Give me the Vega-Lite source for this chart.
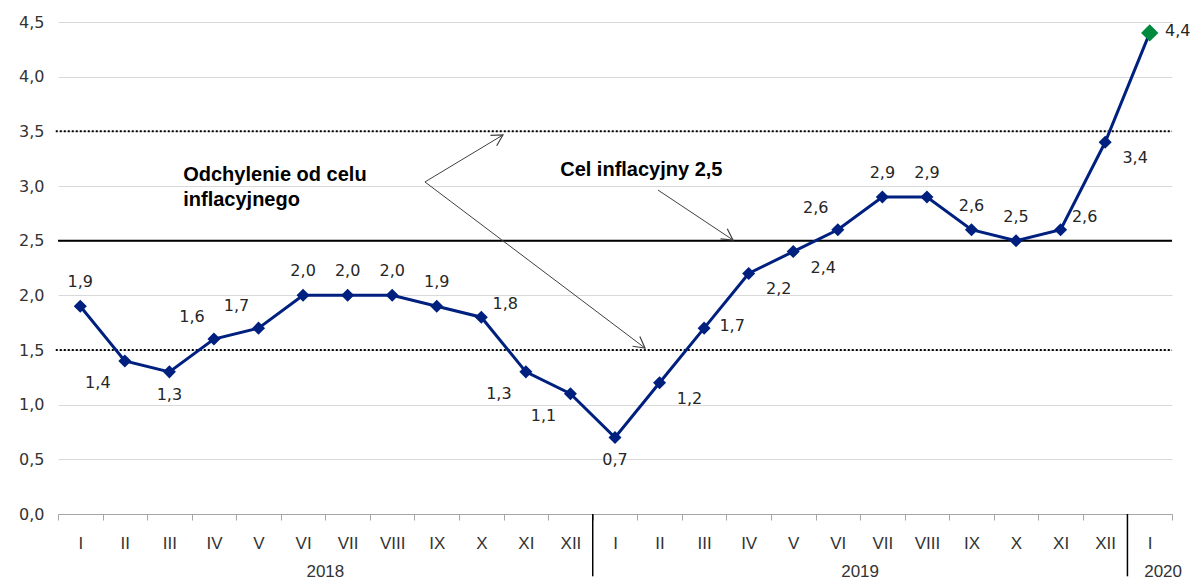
{
  "$schema": "https://vega.github.io/schema/vega-lite/v6.json",
  "width": 1114,
  "height": 492,
  "autosize": "none",
  "padding": {"left": 58, "top": 22, "right": 20, "bottom": 67},
  "config": {
    "view": {"stroke": null},
    "locale": {"number": {"decimal": ",", "thousands": " ", "grouping": [3], "currency": ["", " zł"]}}
  },
  "datasets": {
    "cpi": [
      {"x": 1, "y": 1.9}, {"x": 2, "y": 1.4}, {"x": 3, "y": 1.3}, {"x": 4, "y": 1.6},
      {"x": 5, "y": 1.7}, {"x": 6, "y": 2.0}, {"x": 7, "y": 2.0}, {"x": 8, "y": 2.0},
      {"x": 9, "y": 1.9}, {"x": 10, "y": 1.8}, {"x": 11, "y": 1.3}, {"x": 12, "y": 1.1},
      {"x": 13, "y": 0.7}, {"x": 14, "y": 1.2}, {"x": 15, "y": 1.7}, {"x": 16, "y": 2.2},
      {"x": 17, "y": 2.4}, {"x": 18, "y": 2.6}, {"x": 19, "y": 2.9}, {"x": 20, "y": 2.9},
      {"x": 21, "y": 2.6}, {"x": 22, "y": 2.5}, {"x": 23, "y": 2.6}, {"x": 24, "y": 3.4},
      {"x": 25, "y": 4.4}
    ],
    "refs": [
      {"y": 1.5, "kind": "band"},
      {"y": 3.5, "kind": "band"},
      {"y": 2.5, "kind": "target"}
    ],
    "years": [
      {"x": 6.5, "label": "2018"},
      {"x": 18.5, "label": "2019"},
      {"x": 25.3, "label": "2020"}
    ],
    "seps": [{"x": 12.5}, {"x": 24.5}],
    "notes": [
      {"x": 3.31, "y": 3.101, "label": "Odchylenie od celu"},
      {"x": 3.31, "y": 2.872, "label": "inflacyjnego"},
      {"x": 11.77, "y": 3.146, "label": "Cel inflacyjny 2,5"}
    ],
    "arrows": [
      {"id": 1, "x": 8.735, "y": 3.037, "x2": 10.486, "y2": 3.467},
      {"id": 2, "x": 8.735, "y": 3.037, "x2": 13.673, "y2": 1.518},
      {"id": 3, "x": 13.964, "y": 2.963, "x2": 15.648, "y2": 2.506}
    ],
    "heads": [
      {"id": 1, "x": 10.486, "y": 3.467},
      {"id": 2, "x": 13.673, "y": 1.518},
      {"id": 3, "x": 15.648, "y": 2.506}
    ]
  },
  "layer": [
    {
      "data": {"name": "cpi"},
      "mark": {"type": "line", "stroke": "#00207f", "strokeWidth": 3, "opacity": 0},
      "encoding": {
        "x": {
          "field": "x", "type": "quantitative", "title": null,
          "scale": {"domain": [0.5, 25.5], "nice": false, "zero": false},
          "axis": {
            "title": null,
            "values": [0.5, 1.5, 2.5, 3.5, 4.5, 5.5, 6.5, 7.5, 8.5, 9.5, 10.5, 11.5, 12.5, 13.5, 14.5, 15.5, 16.5, 17.5, 18.5, 19.5, 20.5, 21.5, 22.5, 23.5, 24.5, 25.5],
            "labelExpr": "datum.value > 25 ? '' : ['I','II','III','IV','V','VI','VII','VIII','IX','X','XI','XII'][(datum.value - 0.5) % 12]",
            "labelOffset": 22.28,
            "labelFlush": false,
            "labelOverlap": false,
            "labelBound": false,
            "grid": false,
            "tickSize": 6,
            "tickColor": "#a6a6a6",
            "domainColor": "#a6a6a6",
            "labelFont": "Liberation Sans",
            "labelFontSize": 17,
            "labelColor": "#333333",
            "labelPadding": 15
          }
        },
        "y": {
          "field": "y", "type": "quantitative", "title": null,
          "scale": {"domain": [0, 4.5], "nice": false},
          "axis": {
            "title": null,
            "values": [0, 0.5, 1, 1.5, 2, 2.5, 3, 3.5, 4, 4.5],
            "format": ".1f",
            "grid": true,
            "gridColor": "#d9d9d9",
            "domain": false,
            "ticks": false,
            "labelFont": "DejaVu Sans",
            "labelFontSize": 16,
            "labelColor": "#333333",
            "labelPadding": 14
          }
        }
      }
    },
    {
      "data": {"name": "refs"},
      "transform": [{"filter": "datum.kind == 'band'"}],
      "mark": {"type": "rule", "stroke": "black", "strokeWidth": 2, "strokeDash": [2, 2]},
      "encoding": {
        "x": {"datum": 0.45, "type": "quantitative", "scale": {"domain": [0.5, 25.5], "nice": false, "zero": false}, "title": null},
        "x2": {"datum": 25.5},
        "y": {"field": "y", "type": "quantitative", "scale": {"domain": [0, 4.5], "nice": false}, "title": null}
      }
    },
    {
      "data": {"name": "refs"},
      "transform": [{"filter": "datum.kind == 'target'"}],
      "mark": {"type": "rule", "stroke": "black", "strokeWidth": 2},
      "encoding": {
        "x": {"datum": 0.5, "type": "quantitative", "scale": {"domain": [0.5, 25.5], "nice": false, "zero": false}, "title": null},
        "x2": {"datum": 25.5},
        "y": {"field": "y", "type": "quantitative", "scale": {"domain": [0, 4.5], "nice": false}, "title": null}
      }
    },
    {
      "data": {"name": "seps"},
      "mark": {"type": "rule", "stroke": "black", "strokeWidth": 1.5},
      "encoding": {
        "x": {"field": "x", "type": "quantitative", "scale": {"domain": [0.5, 25.5], "nice": false, "zero": false}, "title": null},
        "y": {"datum": 0, "type": "quantitative", "scale": {"domain": [0, 4.5], "nice": false}, "title": null},
        "y2": {"datum": -0.57}
      }
    },
    {
      "data": {"name": "years"},
      "mark": {"type": "text", "font": "Liberation Sans", "fontSize": 17, "fill": "#333333", "align": "center", "baseline": "middle"},
      "encoding": {
        "x": {"field": "x", "type": "quantitative", "scale": {"domain": [0.5, 25.5], "nice": false, "zero": false}, "title": null},
        "y": {"datum": -0.53, "type": "quantitative", "scale": {"domain": [0, 4.5], "nice": false}, "title": null},
        "text": {"field": "label"}
      }
    },
    {
      "data": {"name": "arrows"},
      "mark": {"type": "rule", "stroke": "#404040", "strokeWidth": 1},
      "encoding": {
        "x": {"field": "x", "type": "quantitative", "scale": {"domain": [0.5, 25.5], "nice": false, "zero": false}, "title": null},
        "y": {"field": "y", "type": "quantitative", "scale": {"domain": [0, 4.5], "nice": false}, "title": null},
        "x2": {"field": "x2"},
        "y2": {"field": "y2"}
      }
    },
    {
      "data": {"name": "heads"},
      "transform": [{"filter": "datum.id == 1"}],
      "mark": {"type": "point", "shape": "M -1 -0.55 L 0 0 L -1 0.55", "filled": false, "stroke": "#404040", "strokeWidth": 1.2, "size": 484, "angle": 329, "opacity": 1},
      "encoding": {
        "x": {"field": "x", "type": "quantitative", "scale": {"domain": [0.5, 25.5], "nice": false, "zero": false}, "title": null},
        "y": {"field": "y", "type": "quantitative", "scale": {"domain": [0, 4.5], "nice": false}, "title": null}
      }
    },
    {
      "data": {"name": "heads"},
      "transform": [{"filter": "datum.id == 2"}],
      "mark": {"type": "point", "shape": "M -1 -0.55 L 0 0 L -1 0.55", "filled": false, "stroke": "#404040", "strokeWidth": 1.2, "size": 484, "angle": 37, "opacity": 1},
      "encoding": {
        "x": {"field": "x", "type": "quantitative", "scale": {"domain": [0.5, 25.5], "nice": false, "zero": false}, "title": null},
        "y": {"field": "y", "type": "quantitative", "scale": {"domain": [0, 4.5], "nice": false}, "title": null}
      }
    },
    {
      "data": {"name": "heads"},
      "transform": [{"filter": "datum.id == 3"}],
      "mark": {"type": "point", "shape": "M -1 -0.55 L 0 0 L -1 0.55", "filled": false, "stroke": "#404040", "strokeWidth": 1.2, "size": 484, "angle": 34, "opacity": 1},
      "encoding": {
        "x": {"field": "x", "type": "quantitative", "scale": {"domain": [0.5, 25.5], "nice": false, "zero": false}, "title": null},
        "y": {"field": "y", "type": "quantitative", "scale": {"domain": [0, 4.5], "nice": false}, "title": null}
      }
    },
    {
      "data": {"name": "notes"},
      "mark": {"type": "text", "font": "Liberation Sans", "fontSize": 20, "fontWeight": "bold", "fill": "black", "align": "left", "baseline": "middle"},
      "encoding": {
        "x": {"field": "x", "type": "quantitative", "scale": {"domain": [0.5, 25.5], "nice": false, "zero": false}, "title": null},
        "y": {"field": "y", "type": "quantitative", "scale": {"domain": [0, 4.5], "nice": false}, "title": null},
        "text": {"field": "label"}
      }
    },
    {
      "data": {"name": "cpi"},
      "mark": {"type": "line", "stroke": "#00207f", "strokeWidth": 3},
      "encoding": {
        "x": {"field": "x", "type": "quantitative", "scale": {"domain": [0.5, 25.5], "nice": false, "zero": false}, "title": null},
        "y": {"field": "y", "type": "quantitative", "scale": {"domain": [0, 4.5], "nice": false}, "title": null}
      }
    },
    {
      "data": {"name": "cpi"},
      "transform": [{"filter": "datum.x < 25"}],
      "mark": {"type": "point", "shape": "diamond", "filled": true, "fill": "#00207f", "size": 170, "opacity": 1},
      "encoding": {
        "x": {"field": "x", "type": "quantitative", "scale": {"domain": [0.5, 25.5], "nice": false, "zero": false}, "title": null},
        "y": {"field": "y", "type": "quantitative", "scale": {"domain": [0, 4.5], "nice": false}, "title": null}
      }
    },
    {
      "data": {"name": "cpi"},
      "transform": [{"filter": "datum.x == 25"}],
      "mark": {"type": "point", "shape": "diamond", "filled": true, "fill": "#008a3e", "size": 300, "opacity": 1},
      "encoding": {
        "x": {"field": "x", "type": "quantitative", "scale": {"domain": [0.5, 25.5], "nice": false, "zero": false}, "title": null},
        "y": {"field": "y", "type": "quantitative", "scale": {"domain": [0, 4.5], "nice": false}, "title": null}
      }
    },
    {
      "data": {"name": "cpi"},
      "transform": [{"filter": {"field": "x", "oneOf": [1, 6, 7, 8, 9, 19, 20, 21, 22]}}],
      "mark": {"type": "text", "font": "DejaVu Sans", "fontSize": 16, "fill": "#262626", "align": "center", "baseline": "middle", "dy": -24},
      "encoding": {
        "x": {"field": "x", "type": "quantitative", "scale": {"domain": [0.5, 25.5], "nice": false, "zero": false}, "title": null},
        "y": {"field": "y", "type": "quantitative", "scale": {"domain": [0, 4.5], "nice": false}, "title": null},
        "text": {"field": "y", "format": ".1f"}
      }
    },
    {
      "data": {"name": "cpi"},
      "transform": [{"filter": {"field": "x", "oneOf": [4, 5, 18]}}],
      "mark": {"type": "text", "font": "DejaVu Sans", "fontSize": 16, "fill": "#262626", "align": "center", "baseline": "middle", "dx": -22, "dy": -22},
      "encoding": {
        "x": {"field": "x", "type": "quantitative", "scale": {"domain": [0.5, 25.5], "nice": false, "zero": false}, "title": null},
        "y": {"field": "y", "type": "quantitative", "scale": {"domain": [0, 4.5], "nice": false}, "title": null},
        "text": {"field": "y", "format": ".1f"}
      }
    },
    {
      "data": {"name": "cpi"},
      "transform": [{"filter": {"field": "x", "oneOf": [3, 13]}}],
      "mark": {"type": "text", "font": "DejaVu Sans", "fontSize": 16, "fill": "#262626", "align": "center", "baseline": "middle", "dy": 23},
      "encoding": {
        "x": {"field": "x", "type": "quantitative", "scale": {"domain": [0.5, 25.5], "nice": false, "zero": false}, "title": null},
        "y": {"field": "y", "type": "quantitative", "scale": {"domain": [0, 4.5], "nice": false}, "title": null},
        "text": {"field": "y", "format": ".1f"}
      }
    },
    {
      "data": {"name": "cpi"},
      "transform": [{"filter": {"field": "x", "oneOf": [2, 11, 12]}}],
      "mark": {"type": "text", "font": "DejaVu Sans", "fontSize": 16, "fill": "#262626", "align": "center", "baseline": "middle", "dx": -27, "dy": 22},
      "encoding": {
        "x": {"field": "x", "type": "quantitative", "scale": {"domain": [0.5, 25.5], "nice": false, "zero": false}, "title": null},
        "y": {"field": "y", "type": "quantitative", "scale": {"domain": [0, 4.5], "nice": false}, "title": null},
        "text": {"field": "y", "format": ".1f"}
      }
    },
    {
      "data": {"name": "cpi"},
      "transform": [{"filter": {"field": "x", "oneOf": [10, 23]}}],
      "mark": {"type": "text", "font": "DejaVu Sans", "fontSize": 16, "fill": "#262626", "align": "center", "baseline": "middle", "dx": 24, "dy": -13},
      "encoding": {
        "x": {"field": "x", "type": "quantitative", "scale": {"domain": [0.5, 25.5], "nice": false, "zero": false}, "title": null},
        "y": {"field": "y", "type": "quantitative", "scale": {"domain": [0, 4.5], "nice": false}, "title": null},
        "text": {"field": "y", "format": ".1f"}
      }
    },
    {
      "data": {"name": "cpi"},
      "transform": [{"filter": {"field": "x", "oneOf": [15, 25]}}],
      "mark": {"type": "text", "font": "DejaVu Sans", "fontSize": 16, "fill": "#262626", "align": "center", "baseline": "middle", "dx": 28, "dy": -2},
      "encoding": {
        "x": {"field": "x", "type": "quantitative", "scale": {"domain": [0.5, 25.5], "nice": false, "zero": false}, "title": null},
        "y": {"field": "y", "type": "quantitative", "scale": {"domain": [0, 4.5], "nice": false}, "title": null},
        "text": {"field": "y", "format": ".1f"}
      }
    },
    {
      "data": {"name": "cpi"},
      "transform": [{"filter": {"field": "x", "oneOf": [14, 16, 17, 24]}}],
      "mark": {"type": "text", "font": "DejaVu Sans", "fontSize": 16, "fill": "#262626", "align": "center", "baseline": "middle", "dx": 30, "dy": 16},
      "encoding": {
        "x": {"field": "x", "type": "quantitative", "scale": {"domain": [0.5, 25.5], "nice": false, "zero": false}, "title": null},
        "y": {"field": "y", "type": "quantitative", "scale": {"domain": [0, 4.5], "nice": false}, "title": null},
        "text": {"field": "y", "format": ".1f"}
      }
    }
  ]
}
